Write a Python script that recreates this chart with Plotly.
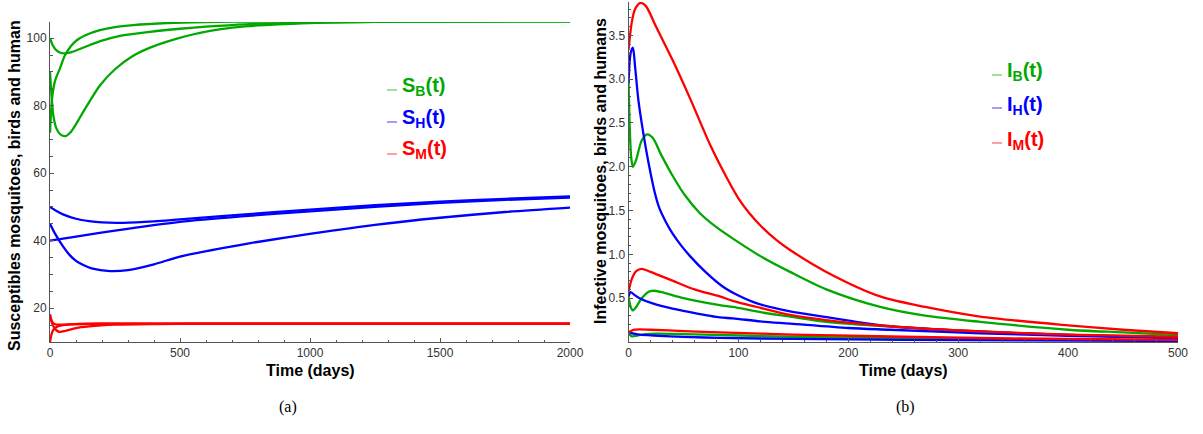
import plotly.graph_objects as go

W, H = 1203, 434

GREEN = "#00a800"
BLUE = "#0000ff"
RED = "#ff0000"
AXIS = "#555555"

# ---------- panel (a): susceptible classes, three initial conditions each ----------
sb1_t = [0, 10, 25, 40, 55, 80, 115, 154, 200, 269, 385, 500, 600, 750, 1000, 1250, 1500, 2000]
sb1_v = [100, 98.0, 96.4, 95.7, 95.5, 95.8, 96.8, 98.0, 99.3, 100.7, 101.9, 102.8, 103.4, 104.1, 104.6, 104.85, 104.95, 105]
sb2_t = [0, 5, 13, 25, 40, 60, 80, 100, 115, 150, 192, 250, 320, 385, 450, 577, 750, 1000, 1250, 1500, 2000]
sb2_v = [90, 84, 77, 73.2, 71.5, 71, 72.2, 74.5, 76.5, 81, 86, 90.8, 94.8, 97.2, 99.0, 101.6, 103.5, 104.5, 104.85, 104.95, 105]
sb3_t = [0, 4, 10, 20, 38, 58, 80, 103, 150, 192, 250, 320, 450, 600, 800, 1000, 2000]
sb3_v = [72, 78, 83.5, 87.5, 91, 95, 97.6, 99.4, 101.3, 102.4, 103.3, 103.9, 104.5, 104.8, 104.95, 105, 105]

sh1_t = [0, 25, 50, 100, 150, 200, 280, 400, 500, 750, 1000, 1250, 1500, 1750, 2000]
sh1_v = [50, 48.8, 47.8, 46.5, 45.8, 45.4, 45.3, 45.7, 46.3, 47.8, 49.2, 50.5, 51.6, 52.4, 53.1]
sh2_t = [0, 100, 250, 500, 750, 1000, 1250, 1500, 1750, 2000]
sh2_v = [40, 41.2, 43.0, 45.6, 47.3, 48.7, 50.0, 51.2, 52.1, 52.8]
sh3_t = [0, 20, 50, 75, 100, 128, 160, 231, 300, 400, 500, 750, 962, 1250, 1500, 1750, 2000]
sh3_v = [45, 42, 38.3, 35.8, 34.0, 32.8, 31.8, 31.0, 31.3, 33.0, 35.3, 39.0, 41.6, 44.7, 46.8, 48.5, 49.8]

sm1_t = [0, 5, 12, 25, 50, 100, 200, 2000]
sm1_v = [18.2, 16.6, 15.6, 15.15, 15.15, 15.3, 15.4, 15.4]
sm2_t = [0, 8, 20, 35, 60, 100, 150, 250, 400, 600, 2000]
sm2_v = [17.8, 15.5, 13.8, 13.0, 13.3, 14.1, 14.6, 15.1, 15.3, 15.4, 15.4]
sm3_t = [0, 5, 12, 25, 50, 100, 200, 2000]
sm3_v = [10, 12, 13.5, 14.4, 15.0, 15.3, 15.4, 15.4]

# ---------- panel (b): infective classes ----------
ib1_t = [0, 1, 2.5, 4, 7, 12, 17, 22, 30, 40, 51, 65, 80, 95, 120, 147, 180, 229, 270, 320, 400, 450, 500]
ib1_v = [3.0, 2.5, 2.1, 2.0, 2.08, 2.3, 2.37, 2.33, 2.13, 1.9, 1.68, 1.47, 1.31, 1.18, 0.98, 0.8, 0.6, 0.4, 0.3, 0.23, 0.14, 0.11, 0.08]
ib2_t = [0, 2, 4, 7, 12, 18, 22, 30, 50, 83, 95, 120, 147, 180, 238, 320, 400, 500]
ib2_v = [0.52, 0.4, 0.36, 0.4, 0.5, 0.57, 0.585, 0.57, 0.5, 0.42, 0.4, 0.34, 0.29, 0.23, 0.175, 0.12, 0.08, 0.05]
ib3_t = [0, 3, 6, 15, 25, 50, 83, 150, 250, 350, 500]
ib3_v = [0.1, 0.065, 0.07, 0.09, 0.095, 0.09, 0.08, 0.06, 0.04, 0.03, 0.02]

ih1_t = [0, 2, 4, 6, 9, 13.5, 18, 24, 28, 34, 40, 48, 56, 70, 86, 100, 117, 147, 177, 207, 238, 300, 400, 500]
ih1_v = [2.95, 3.3, 3.36, 3.14, 2.76, 2.38, 2.06, 1.7, 1.53, 1.37, 1.24, 1.1, 0.98, 0.8, 0.63, 0.53, 0.44, 0.35, 0.29, 0.23, 0.18, 0.13, 0.08, 0.05]
ih2_t = [0, 2, 5, 10, 22, 40, 56, 83, 95, 120, 147, 200, 238, 320, 400, 500]
ih2_v = [0.52, 0.57, 0.54, 0.5, 0.44, 0.38, 0.34, 0.28, 0.27, 0.235, 0.21, 0.16, 0.14, 0.1, 0.07, 0.045]
ih3_t = [0, 3, 10, 23, 50, 83, 150, 250, 350, 500]
ih3_v = [0.1, 0.1, 0.085, 0.074, 0.058, 0.048, 0.035, 0.025, 0.018, 0.012]

im1_t = [0, 3, 6, 11, 16, 25, 40, 56, 75, 90, 100, 110, 120, 135, 147, 180, 229, 270, 320, 400, 450, 500]
im1_v = [3.33, 3.65, 3.8, 3.87, 3.83, 3.6, 3.22, 2.78, 2.23, 1.86, 1.64, 1.47, 1.33, 1.16, 1.05, 0.8, 0.52, 0.4, 0.29, 0.19, 0.14, 0.1]
im2_t = [0, 3, 7, 12, 20, 40, 60, 83, 95, 120, 147, 180, 238, 320, 400, 500]
im2_v = [0.57, 0.72, 0.81, 0.835, 0.8, 0.7, 0.6, 0.52, 0.47, 0.39, 0.31, 0.25, 0.18, 0.12, 0.085, 0.06]
im3_t = [0, 5, 10, 20, 50, 83, 150, 250, 350, 500]
im3_v = [0.11, 0.14, 0.145, 0.14, 0.125, 0.11, 0.085, 0.06, 0.04, 0.025]

panel_a = [
    (GREEN, [(sb1_t, sb1_v), (sb2_t, sb2_v), (sb3_t, sb3_v)]),
    (BLUE, [(sh1_t, sh1_v), (sh2_t, sh2_v), (sh3_t, sh3_v)]),
    (RED, [(sm1_t, sm1_v), (sm2_t, sm2_v), (sm3_t, sm3_v)]),
]
panel_b = [
    (GREEN, [(ib1_t, ib1_v), (ib2_t, ib2_v), (ib3_t, ib3_v)]),
    (BLUE, [(ih1_t, ih1_v), (ih2_t, ih2_v), (ih3_t, ih3_v)]),
    (RED, [(im1_t, im1_v), (im2_t, im2_v), (im3_t, im3_v)]),
]

fig = go.Figure()

for xa, ya, groups in [("x", "y", panel_a), ("x2", "y2", panel_b)]:
    for color, curves in groups:
        for t, v in curves:
            fig.add_trace(go.Scatter(
                x=t, y=v, xaxis=xa, yaxis=ya, mode="lines",
                line=dict(color=color, width=2.3, shape="spline", smoothing=0.8),
                showlegend=False, hoverinfo="skip",
            ))


def px_x(p):
    return p / W


def px_y(p):
    return (H - p) / H


axis_common = dict(
    showline=True, linecolor=AXIS, linewidth=1, showgrid=False, zeroline=False,
    automargin=False,
    ticks="inside", ticklen=4, tickwidth=1, tickcolor=AXIS,
    tickfont=dict(family="Liberation Sans, Arial, sans-serif", size=12, color="#333333"),
)

fig.update_layout(
    width=W, height=H, autosize=False,
    margin=dict(l=0, r=0, t=0, b=0, autoexpand=False),
    paper_bgcolor="white", plot_bgcolor="white",
    xaxis=dict(domain=[px_x(50), px_x(570)], range=[0, 2000], anchor="y",
               tickvals=[0, 500, 1000, 1500, 2000],
               minor=dict(ticks="inside", dtick=100, ticklen=2.5, tickcolor=AXIS),
               **axis_common),
    yaxis=dict(domain=[px_y(342), px_y(22)], range=[9.98, 104.8], anchor="x",
               tickvals=[20, 40, 60, 80, 100],
               minor=dict(ticks="inside", dtick=5, ticklen=2.5, tickcolor=AXIS),
               **axis_common),
    xaxis2=dict(domain=[px_x(628.5), px_x(1178)], range=[0, 500], anchor="y2",
                tickvals=[0, 100, 200, 300, 400, 500],
                minor=dict(ticks="inside", dtick=20, ticklen=2.5, tickcolor=AXIS),
                **axis_common),
    yaxis2=dict(domain=[px_y(342), px_y(2)], range=[0, 3.88], anchor="x2",
                tickvals=[0.5, 1.0, 1.5, 2.0, 2.5, 3.0, 3.5],
                ticktext=["0.5", "1.0", "1.5", "2.0", "2.5", "3.0", "3.5"],
                minor=dict(ticks="inside", dtick=0.1, ticklen=2.5, tickcolor=AXIS),
                **axis_common),
)

LABEL_FONT = dict(family="Liberation Sans, Arial, sans-serif", size=16, color="black")
annotations = [
    dict(text="<b>Time (days)</b>", x=px_x(310), y=px_y(370), font=LABEL_FONT),
    dict(text="<b>Time (days)</b>", x=px_x(903), y=px_y(370), font=LABEL_FONT),
    dict(text="<b>Susceptibles mosquitoes, birds and human</b>", x=px_x(14), y=px_y(186),
         textangle=-90, font=LABEL_FONT),
    dict(text="<b>Infective mosquitoes, birds and humans</b>", x=px_x(600), y=px_y(171),
         textangle=-90, font=LABEL_FONT),
    dict(text="(a)", x=px_x(288), y=px_y(407),
         font=dict(family="Liberation Serif, Times New Roman, serif", size=16, color="black")),
    dict(text="(b)", x=px_x(905), y=px_y(407),
         font=dict(family="Liberation Serif, Times New Roman, serif", size=16, color="black")),
]

# legend entries: short pale stroke followed by coloured bold label
legend_items = [
    ("S", "B", GREEN, "rgba(0,168,0,0.5)", 400, 87, 387, 90),
    ("S", "H", BLUE, "rgba(0,0,255,0.5)", 400, 118, 387, 122),
    ("S", "M", RED, "rgba(255,0,0,0.5)", 400, 150, 387, 154),
    ("I", "B", GREEN, "rgba(0,168,0,0.5)", 1005, 71, 992, 75),
    ("I", "H", BLUE, "rgba(0,0,255,0.5)", 1005, 105, 992, 108),
    ("I", "M", RED, "rgba(255,0,0,0.5)", 1005, 140, 992, 143),
]
shapes = []
for sym, sub, col, pale, tx, ty, lx, ly in legend_items:
    annotations.append(dict(
        text=f"<b>{sym}<sub>{sub}</sub>(t)</b>", x=px_x(tx), y=px_y(ty),
        xanchor="left", yanchor="middle",
        font=dict(family="Liberation Sans, Arial, sans-serif", size=20, color=col),
    ))
    shapes.append(dict(type="line", xref="paper", yref="paper",
                       x0=px_x(lx), x1=px_x(lx + 10), y0=px_y(ly), y1=px_y(ly),
                       line=dict(color=pale, width=1.5)))

for a in annotations:
    a.setdefault("xref", "paper")
    a.setdefault("yref", "paper")
    a.setdefault("showarrow", False)
    a.setdefault("xanchor", "center")
    a.setdefault("yanchor", "middle")

fig.update_layout(annotations=annotations, shapes=shapes)

fig.write_html("out.html")
